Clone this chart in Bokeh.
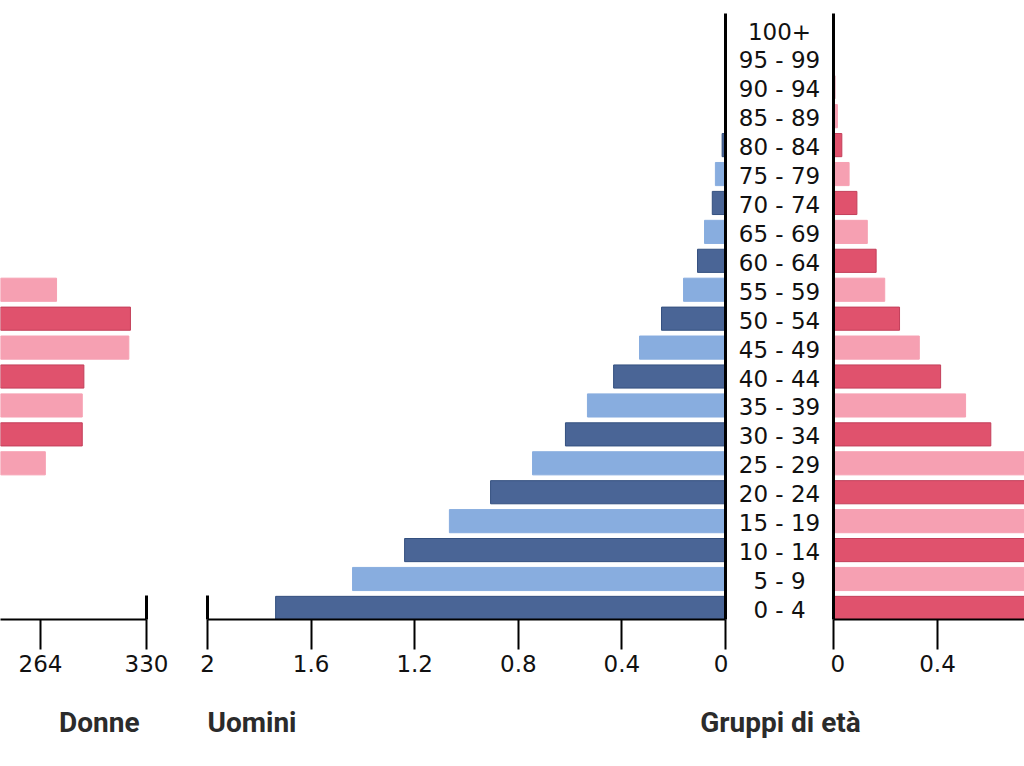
from bokeh.plotting import figure
from bokeh.layouts import row, column
from bokeh.models import (Range1d, FixedTicker, LinearAxis, ColumnDataSource, Label,
                          CDSView, BooleanFilter)
from bokeh.embed import file_html
from bokeh.resources import INLINE
from bokeh.core.properties import value

# ---------------- data ----------------
age_groups = ["0 - 4", "5 - 9", "10 - 14", "15 - 19", "20 - 24", "25 - 29", "30 - 34",
              "35 - 39", "40 - 44", "45 - 49", "50 - 54", "55 - 59", "60 - 64", "65 - 69",
              "70 - 74", "75 - 79", "80 - 84", "85 - 89", "90 - 94", "95 - 99", "100+"]

# Uomini (share of population, %)
men_share = [1.737, 1.440, 1.239, 1.066, 0.907, 0.745, 0.618, 0.533, 0.432, 0.332, 0.247,
             0.162, 0.108, 0.081, 0.051, 0.039, 0.013, 0.003, 0.003, 0.001, 0.0005]
# Donne (share of population, %)
women_share = [1.700, 1.420, 1.220, 1.050, 0.900, 0.770, 0.605, 0.508, 0.412, 0.330, 0.254,
               0.197, 0.164, 0.130, 0.090, 0.060, 0.032, 0.015, 0.005, 0.004, 0.001]
# Donne (other panel, counts)
women_count = [200, 210, 215, 222, 236, 267, 290, 290, 291, 319, 320,
               274, 232, 200, 170, 140, 100, 60, 25, 6, 1]

men_ticks = [2, 1.6, 1.2, 0.8, 0.4, 0]
men_tick_labels = ["2", "1.6", "1.2", "0.8", "0.4", "0"]
women_ticks = [0, 0.4, 0.8]
women_tick_labels = ["0", "0.4", "0.8"]
count_ticks = [198, 264, 330]
count_tick_labels = ["198", "264", "330"]

title_donne = "Donne"
title_uomini = "Uomini"
title_gruppi = "Gruppi di età"

# ---------------- style ----------------
MEN_DARK, MEN_LIGHT = "#4a6596", "#88addf"
MEN_DARK_EDGE = "#34507f"
WOMEN_DARK, WOMEN_LIGHT = "#e0526d", "#f6a0b2"
WOMEN_DARK_EDGE = "#c33f5a"

HEIGHT = 689
TOP = 13
BOTTOM = 70
Y0, Y1 = -0.4, 20.55
PX_PER_UNIT = 260.0

rows_idx = list(range(len(age_groups)))


def shades(dark, light):
    return [dark if i % 2 == 0 else light for i in rows_idx]


def base(width, x_range, **kw):
    p = figure(width=width, height=HEIGHT, x_range=x_range, y_range=Range1d(Y0, Y1),
               output_backend="svg", toolbar_location=None, min_border=0,
               min_border_top=TOP, min_border_bottom=BOTTOM, **kw)
    p.grid.visible = False
    p.outline_line_color = None
    p.background_fill_color = "white"
    p.border_fill_color = "white"
    return p


def style_xaxis(ax, ticks, labels):
    ax.ticker = FixedTicker(ticks=ticks)
    ax.major_label_overrides = dict(zip(ticks, labels))
    ax.axis_line_width = 2
    ax.axis_line_color = "black"
    ax.major_tick_line_width = 2
    ax.major_tick_line_color = "black"
    ax.major_tick_out = 30
    ax.major_tick_in = 0
    ax.minor_tick_out = 0
    ax.minor_tick_in = 0
    ax.major_label_standoff = 5
    ax.major_label_text_font = "DejaVu Sans"
    ax.major_label_text_font_size = "23px"
    ax.major_label_text_color = "#111111"


def line_axis(bounds=None):
    ax = LinearAxis(ticker=FixedTicker(ticks=[]), major_tick_out=0, major_tick_in=0,
                    minor_tick_out=0, minor_tick_in=0, major_label_standoff=0,
                    axis_line_width=3, axis_line_color="black")
    ax.major_label_text_font_size = "0px"
    if bounds is not None:
        ax.bounds = bounds
    return ax


# ---- panel A: Donne (counts), partially visible ----
a_width, a_frame, a_right = 180, 146, 34
a_scale = 106 / 66.0
a_start = 330 - a_frame / a_scale
pA = base(a_width, Range1d(a_start, 330), y_axis_location=None)
pA.min_border_right = a_right
srcA = ColumnDataSource(dict(y=rows_idx, v=women_count,
                             c=shades(WOMEN_DARK, WOMEN_LIGHT),
                             lc=shades(WOMEN_DARK_EDGE, WOMEN_LIGHT)))
viewA = CDSView(filter=BooleanFilter([v > a_start for v in women_count]))
pA.hbar(y="y", left=0, right="v", height=0.8, fill_color="c", line_color="lc",
        source=srcA, view=viewA)
style_xaxis(pA.xaxis[0], count_ticks, count_tick_labels)
pA.add_layout(line_axis((Y0, 0.43)), "right")

# ---- panel B: Uomini ----
pB = base(548, Range1d(2, 0), y_axis_location=None)
pB.min_border_left = 27
pB.min_border_right = 3
srcB = ColumnDataSource(dict(y=rows_idx, v=men_share,
                             c=shades(MEN_DARK, MEN_LIGHT),
                             lc=shades(MEN_DARK_EDGE, MEN_LIGHT)))
pB.hbar(y="y", left=0, right="v", height=0.8, fill_color="c", line_color="lc", source=srcB)
style_xaxis(pB.xaxis[0], men_ticks, men_tick_labels)
pB.add_layout(line_axis((Y0, 0.43)), "left")
pB.add_layout(line_axis(), "right")

# ---- panel C: age group labels ----
pC = base(102, Range1d(0, 1), x_axis_location=None, y_axis_location=None)
srcC = ColumnDataSource(dict(y=rows_idx, t=age_groups))
pC.text(x=0.5, y="y", text="t", source=srcC, text_align="center", text_baseline="middle",
        text_font=value("DejaVu Sans"), text_font_size="23px", text_color="#111111",
        y_offset=2)

# ---- panel D: Donne (share) ----
d_frame = 191
pD = base(194, Range1d(0, d_frame / PX_PER_UNIT), y_axis_location=None)
pD.min_border_left = 3
srcD = ColumnDataSource(dict(y=rows_idx, v=women_share,
                             c=shades(WOMEN_DARK, WOMEN_LIGHT),
                             lc=shades(WOMEN_DARK_EDGE, WOMEN_LIGHT)))
pD.hbar(y="y", left=0, right="v", height=0.8, fill_color="c", line_color="lc", source=srcD)
style_xaxis(pD.xaxis[0], women_ticks, women_tick_labels)
pD.add_layout(line_axis(), "left")

# ---- titles strip ----
pT = figure(width=1024, height=60, x_range=Range1d(0, 1024), y_range=Range1d(60, 0),
            x_axis_location=None, y_axis_location=None, output_backend="svg",
            toolbar_location=None, min_border=0)
pT.grid.visible = False
pT.outline_line_color = None
for txt, xx, al in [(title_donne, 139, "right"), (title_uomini, 207, "left"),
                    (title_gruppi, 780, "center")]:
    pT.add_layout(Label(x=xx, y=33, text=txt, text_align=al, text_baseline="middle",
                        text_font="Roboto", text_font_style="bold", text_font_size="28px",
                        text_color="#2b2b2b"))

layout = column(row(pA, pB, pC, pD), pT)

open("out.html", "w").write(file_html(layout, INLINE))
